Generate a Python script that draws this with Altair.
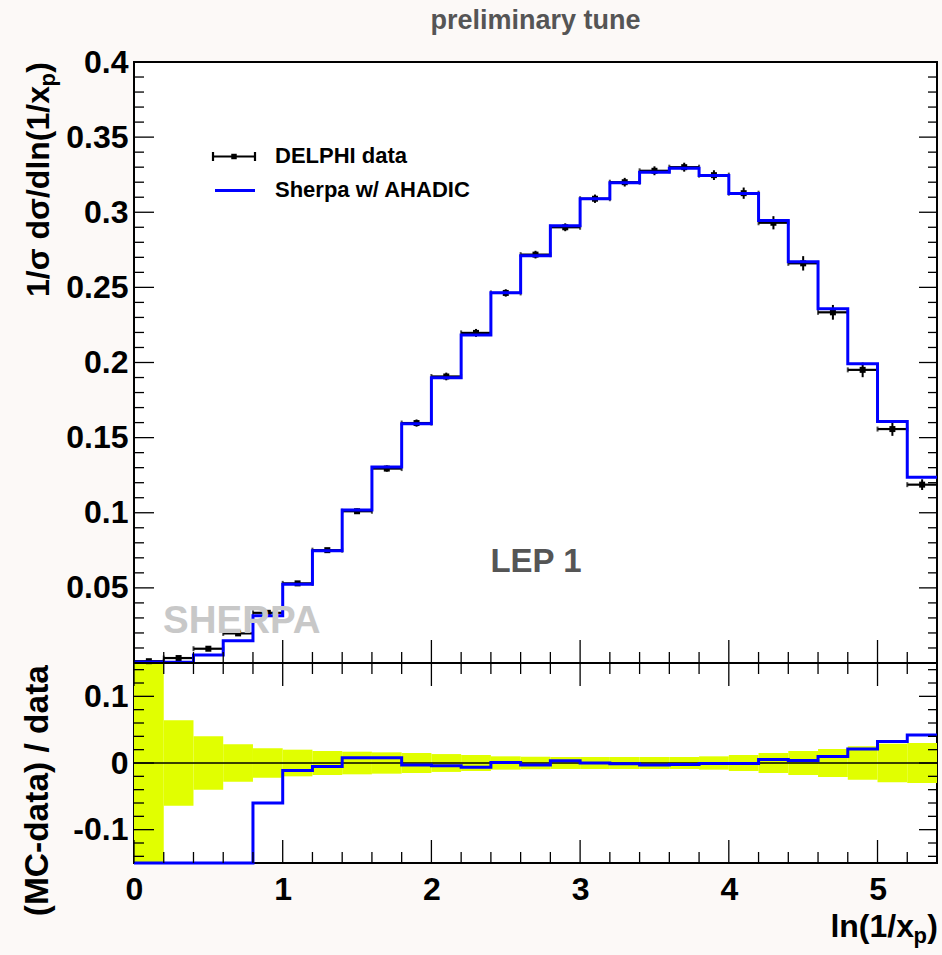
import altair as alt
import pandas as pd

# ---------------- data ----------------
edges = [0.0, 0.2, 0.4, 0.6, 0.8, 1.0, 1.2, 1.4, 1.6, 1.8, 2.0, 2.2, 2.4, 2.6,
         2.8, 3.0, 3.2, 3.4, 3.6, 3.8, 4.0, 4.2, 4.4, 4.6, 4.8, 5.0, 5.2, 5.4]
data_vals = [0.0012, 0.0033, 0.0095, 0.0197, 0.0334, 0.0530, 0.0751, 0.1010,
             0.1294, 0.1597, 0.1907, 0.2197, 0.2463, 0.2718, 0.2900, 0.3090,
             0.3200, 0.3276, 0.3300, 0.3247, 0.3127, 0.2930, 0.2660, 0.2334,
             0.1951, 0.1557, 0.1187]
mc_vals = [0.0006, 0.0005, 0.0053, 0.0148, 0.0314, 0.0524, 0.0747, 0.1018,
           0.1304, 0.1592, 0.1899, 0.2183, 0.2465, 0.2710, 0.2910, 0.3090,
           0.3197, 0.3266, 0.3293, 0.3244, 0.3125, 0.2945, 0.2670, 0.2357,
           0.1992, 0.1607, 0.1237]
rel_err = [0.50, 0.064, 0.040, 0.028, 0.022, 0.020, 0.018, 0.017, 0.016,
           0.015, 0.0134, 0.012, 0.010, 0.0094, 0.009, 0.009, 0.009, 0.009,
           0.009, 0.010, 0.012, 0.015, 0.018, 0.021, 0.025, 0.029, 0.030]

x_major = [0, 1, 2, 3, 4, 5]
x_minor = [round(0.2 * i, 1) for i in range(1, 27) if i % 5 != 0]
ytop_major = [0.0, 0.05, 0.1, 0.15, 0.2, 0.25, 0.3, 0.35, 0.4]
ytop_minor = [round(0.01 * i, 2) for i in range(1, 40) if i % 5 != 0]
ytop_labels = [0.05, 0.1, 0.15, 0.2, 0.25, 0.3, 0.35, 0.4]
ybot_major = [-0.1, 0.0, 0.1]
ybot_minor = [-0.14, -0.12, -0.08, -0.06, -0.04, -0.02,
              0.02, 0.04, 0.06, 0.08, 0.12, 0.14]

# ---------------- tables ----------------
lo = edges[:-1]
hi = edges[1:]
df = pd.DataFrame({
    "lo": lo, "hi": hi,
    "c": [(a + b) / 2 for a, b in zip(lo, hi)],
    "d": data_vals, "mc": mc_vals, "rel": rel_err,
})
df["elo"] = df["d"] * (1 - df["rel"])
df["ehi"] = df["d"] * (1 + df["rel"])
df["ratio"] = (df["mc"] - df["d"]) / df["d"]
df["bneg"] = -df["rel"]
df["bpos"] = df["rel"]

step_mc = pd.DataFrame({"x": edges, "y": mc_vals + [mc_vals[-1]]})
ratio_list = list(df["ratio"])
step_ratio = pd.DataFrame({"x": edges, "y": ratio_list + [ratio_list[-1]]})
one = pd.DataFrame({"a": [0]})

# ---------------- geometry ----------------
W, H_TOP, H_BOT = 803, 601, 200
H = H_TOP + H_BOT
FONT = "Liberation Sans"

xs = alt.Scale(domain=[0, 5.4], nice=False, zero=False)
ytop = alt.Scale(domain=[0, 0.4], range=[H_TOP, 0], nice=False, zero=False)
ybot = alt.Scale(domain=[-0.15, 0.15], range=[H, H_TOP], nice=False,
                 zero=False, clamp=True)

lab = dict(labelFont=FONT, labelFontWeight="bold", labelColor="black",
           ticks=False, tickSize=0, domain=False, grid=False, title=None,
           labelOverlap=False, labelFlush=False)

layers = []

# ---- ratio band ----
layers.append(alt.Chart(df).mark_rect(color="#e1ff00").encode(
    x=alt.X("lo:Q", scale=xs, axis=None), x2="hi:Q",
    y=alt.Y("bneg:Q", scale=ybot, axis=None), y2="bpos:Q"))
# zero line
layers.append(alt.Chart(one).mark_rule(color="black", strokeWidth=1.5).encode(
    y=alt.Y("z:Q", scale=ybot, axis=None), x=alt.value(0), x2=alt.value(W)
).transform_calculate(z="0"))
# ratio step line (with the ratio axis and the x axis)
layers.append(alt.Chart(step_ratio).mark_line(
    color="#0000ff", strokeWidth=3, interpolate="step-after").encode(
    x=alt.X("x:Q", scale=xs, axis=alt.Axis(
        orient="bottom", values=x_major, format="d", labelFontSize=32,
        labelPadding=11, **lab)),
    y=alt.Y("y:Q", scale=ybot, axis=alt.Axis(
        orient="left", values=ybot_major, labelFontSize=32, labelPadding=6,
        labelExpr="datum.value > 0.05 ? '0.1' : (datum.value < -0.05 ? '-0.1' : '0')",
        **lab))))

# ---- data error bars ----
layers.append(alt.Chart(df).mark_rule(color="black", strokeWidth=2.2).encode(
    x=alt.X("lo:Q", scale=xs, axis=None), x2="hi:Q",
    y=alt.Y("d:Q", scale=ytop, axis=None)))
layers.append(alt.Chart(df).mark_rule(color="black", strokeWidth=2).encode(
    x=alt.X("c:Q", scale=xs, axis=None),
    y=alt.Y("elo:Q", scale=ytop, axis=None), y2="ehi:Q"))
for col in ["lo", "hi"]:
    layers.append(alt.Chart(df).mark_tick(
        color="black", orient="vertical", size=5, thickness=2).encode(
        x=alt.X(f"{col}:Q", scale=xs, axis=None),
        y=alt.Y("d:Q", scale=ytop, axis=None)))
layers.append(alt.Chart(df).mark_square(
    color="black", size=36, opacity=1, filled=True).encode(
    x=alt.X("c:Q", scale=xs, axis=None),
    y=alt.Y("d:Q", scale=ytop, axis=None)))

# ---- MC histogram (carries the top y axis) ----
layers.append(alt.Chart(step_mc).mark_line(
    color="#0000ff", strokeWidth=3, interpolate="step-after").encode(
    x=alt.X("x:Q", scale=xs, axis=None),
    y=alt.Y("y:Q", scale=ytop, axis=alt.Axis(
        orient="left", values=ytop_labels, format="~g", labelFontSize=32,
        labelPadding=6, **lab))))

# ---- tick marks (ROOT style, pointing inward) ----
def yticks(vals, scale, length, right=False):
    df_t = pd.DataFrame({"v": vals})
    x0, x1 = (W - length, W) if right else (0, length)
    return alt.Chart(df_t).mark_rule(color="black", strokeWidth=1.3).encode(
        y=alt.Y("v:Q", scale=scale, axis=None),
        x=alt.value(x0), x2=alt.value(x1))

def xticks(vals, y0, y1):
    df_t = pd.DataFrame({"v": vals})
    return alt.Chart(df_t).mark_rule(color="black", strokeWidth=1.3).encode(
        x=alt.X("v:Q", scale=xs, axis=None),
        y=alt.value(y0), y2=alt.value(y1))

layers += [
    yticks(ytop_major, ytop, 20), yticks(ytop_minor, ytop, 10),
    yticks(ytop_major, ytop, 18, True), yticks(ytop_minor, ytop, 9, True),
    yticks(ybot_major, ybot, 20), yticks(ybot_minor, ybot, 10),
    yticks(ybot_major, ybot, 18, True), yticks(ybot_minor, ybot, 9, True),
    xticks(x_major, H_TOP - 23, H_TOP + 23),
    xticks(x_minor, H_TOP - 11, H_TOP + 11),
    xticks(x_major, H - 23, H), xticks(x_minor, H - 11, H),
]
# panel separator
layers.append(alt.Chart(one).mark_rule(color="black", strokeWidth=2).encode(
    x=alt.value(0), x2=alt.value(W), y=alt.value(H_TOP)))

# ---- legend ----
layers.append(alt.Chart(one).mark_rule(color="black", strokeWidth=2.2).encode(
    x=alt.value(79), x2=alt.value(121), y=alt.value(94.5)))
for xv in [79, 121]:
    layers.append(alt.Chart(one).mark_rule(color="black", strokeWidth=2.2).encode(
        x=alt.value(xv), y=alt.value(90), y2=alt.value(99)))
layers.append(alt.Chart(one).mark_square(color="black", size=30, opacity=1).encode(
    x=alt.value(100), y=alt.value(94.5)))
layers.append(alt.Chart(one).mark_rule(color="#0000ff", strokeWidth=3).encode(
    x=alt.value(81), x2=alt.value(121), y=alt.value(128.5)))

def text(t, x, y, size, color="black", align="left", angle=0, baseline="alphabetic"):
    kw = dict(text=t, font=FONT, fontWeight="bold", fontSize=size, color=color,
              align=align, baseline=baseline)
    if angle:
        kw["angle"] = angle
    return alt.Chart(one).mark_text(**kw).encode(x=alt.value(x), y=alt.value(y))

layers += [
    text("DELPHI data", 141, 101, 22),
    text("Sherpa w/ AHADIC", 141, 135, 22),
    text("LEP 1", 402, 510, 33, color="#555555", align="center"),
    text("SHERPA", 29, 571, 38.5, color="#c8c8c8"),
    text("preliminary tune", 401.5, -33, 27, color="#555555", align="center"),
    # y title (top panel): 1/σ dσ/dln(1/x_p)
    text(")", -85, 0, 32, align="right", angle=270),
    text("p", -79, 11, 22, align="right", angle=270),
    text("1/σ dσ/dln(1/x", -85, 24, 32, align="right", angle=270),
    # y title (ratio panel)
    text("(MC-data) / data", -86, H_TOP + 2, 33.5, align="right", angle=270),
    # x title: ln(1/x_p)
    text(")", W + 1, 875, 32, align="right"),
    text("p", W - 10, 881, 22, align="right"),
    text("ln(1/x", W - 23, 875, 32, align="right"),
]

chart = alt.layer(*layers).resolve_scale(y="independent").resolve_axis(
    x="independent", y="independent"
).properties(
    width=W, height=H,
    autosize=alt.AutoSizeParams(type="none"),
    padding={"left": 134, "top": 62, "right": 5, "bottom": 92},
).configure(background="#fcf9f7").configure_view(
    stroke="black", strokeWidth=2, fill="white")

chart.save("out.html", embed_options={"renderer": "svg", "actions": False})
